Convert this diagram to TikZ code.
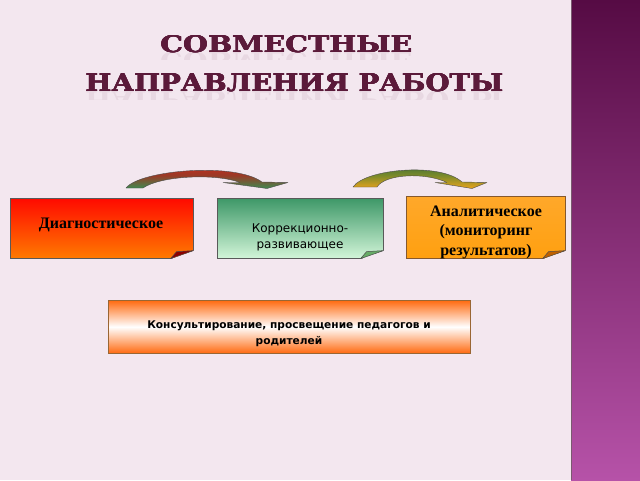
\documentclass[tikz,border=0pt]{standalone}
\usepackage{fontspec}
\usepackage{graphicx}
\setmainfont{Liberation Serif}
\newfontfamily\ttlfont{DejaVu Serif}
\newfontfamily\sansf{DejaVu Sans}
\definecolor{bgc}{HTML}{F3E7EF}
\definecolor{bandtop}{HTML}{560B44}
\definecolor{bandbot}{HTML}{B652A8}
\definecolor{bandedge}{HTML}{7A5A70}
\definecolor{ttlc}{HTML}{5B1A3A}
\definecolor{redtop}{HTML}{FF0A00}
\definecolor{redbot}{HTML}{FF7A00}
\definecolor{grtop}{HTML}{3E9868}
\definecolor{grbot}{HTML}{D2F5D8}
\definecolor{ortop}{HTML}{FFA82A}
\definecolor{orbot}{HTML}{FFA010}
\definecolor{kons}{HTML}{FF6A10}
\definecolor{a1t}{HTML}{D42418}
\definecolor{a1m}{HTML}{9A3A26}
\definecolor{a1b}{HTML}{3E8A50}
\definecolor{a2t}{HTML}{2F6A3A}
\definecolor{a2m}{HTML}{7A8A2A}
\definecolor{a2b}{HTML}{E8A41C}
\newcommand\foldcorner[3]{%
  \begin{scope}[shift={(#1.south east)}]
    \fill[bgc] (0.8,0.8) -- (0.8,-8.3) -- (-23.5,0.8) -- cycle;
    \filldraw[fill=#2, draw=#3, line width=0.5pt, line join=round] (0,-8) -- (-17,-7) -- (-23,0) -- cycle;
  \end{scope}}
\newcommand\ttlone{\resizebox{252pt}{17pt}{\ttlfont\bfseries СОВМЕСТНЫЕ}}
\newcommand\ttltwo{\resizebox{418pt}{18pt}{\ttlfont\bfseries НАПРАВЛЕНИЯ РАБОТЫ}}
\tikzset{
  notebox/.style={draw=#1, line width=0.6pt, rectangle, inner sep=0pt, anchor=north west},
  bolds/.style={font=\fontsize{16}{19.5}\selectfont\bfseries, text=black, align=center, inner sep=0pt},
  sanstxt/.style={font=\sansf\fontsize{12}{16}\selectfont, text=black, align=center, inner sep=0pt},
  ttl/.style={text=ttlc, inner sep=0pt, anchor=base west},
  curvarrow/.style={draw=black!70, line width=0.4pt, line join=round}
}
\begin{document}
\begin{tikzpicture}[x=1pt,y=-1pt]
\useasboundingbox (0,0) rectangle (640,480);
\fill[bgc] (0,0) rectangle (640,480);
% right decorative band
\fill[top color=bandtop, bottom color=bandbot] (571,0) rectangle (640,480);
\draw[bandedge, line width=1.2pt] (571.5,0) -- (571.5,480);

% title reflections
\begin{scope}
  \clip (150,52.5) rectangle (420,59);
  \node[ttl, yscale=-1, opacity=0.07] (refl1) at (160,52.5) {\ttlone};
\end{scope}
\begin{scope}
  \clip (75,91.5) rectangle (510,99);
  \node[ttl, yscale=-1, opacity=0.07] (refl2) at (85,91.5) {\ttltwo};
\end{scope}
% title (thickened)
\foreach \dx/\dy in {0/0,0.5/0,0/0.4,0.5/0.4}{
  \node[ttl] at (160+\dx,52+\dy) {\ttlone};
  \node[ttl] at (85+\dx,91+\dy) {\ttltwo};
}
\node[ttl] (title1) at (160.25,52.2) {\ttlone};
\node[ttl] (title2) at (85.25,91.2) {\ttltwo};

% curved arrows
\path[curvarrow, top color=a1t, bottom color=a1b, middle color=a1m]
  (126,188) .. controls (140,170) and (235,162) .. (262,182)
  -- (288,182.5) -- (267,188.5) -- (223,182.5) -- (240,182.5)
  .. controls (215,173) and (160,176) .. (143,188) -- cycle;
\path[curvarrow, top color=a2t, bottom color=a2b, middle color=a2m]
  (353,187) .. controls (365,169) and (440,162) .. (462,182)
  -- (487,182.5) -- (472,188.5) -- (435,182.5) -- (447,182.5)
  .. controls (425,172) and (385,174) .. (377,187) -- cycle;

% boxes
\node[notebox=black!65, minimum width=183pt, minimum height=60pt, top color=redtop, bottom color=redbot] (b1) at (10,198) {};
\foldcorner{b1}{red!55!black}{black!70}
\node[bolds] (t1) at (101,225) {Диагностическое};

\node[notebox=black!65, minimum width=166pt, minimum height=60pt, top color=grtop, bottom color=grbot] (b2) at (217,198) {};
\foldcorner{b2}{green!45!black!60}{black!70}
\node[sanstxt] (t2) at (300,237) {Коррекционно-\\развивающее};

\node[notebox=brown!70!black, minimum width=159pt, minimum height=62pt, top color=ortop, bottom color=orbot] (b3) at (406,196) {};
\foldcorner{b3}{orange!75!black}{black!70}
\node[bolds] (t3) at (486,232) {Аналитическое\\(мониторинг\\результатов)};

\node[notebox=brown!80!black, minimum width=362pt, minimum height=53pt, top color=kons, bottom color=kons, middle color=white] (b4) at (108,300) {};
\node[sanstxt, font=\sansf\bfseries\fontsize{10.6}{16}\selectfont] (t4) at (289,334) {Консультирование, просвещение педагогов и\\родителей};
\end{tikzpicture}
\end{document}
